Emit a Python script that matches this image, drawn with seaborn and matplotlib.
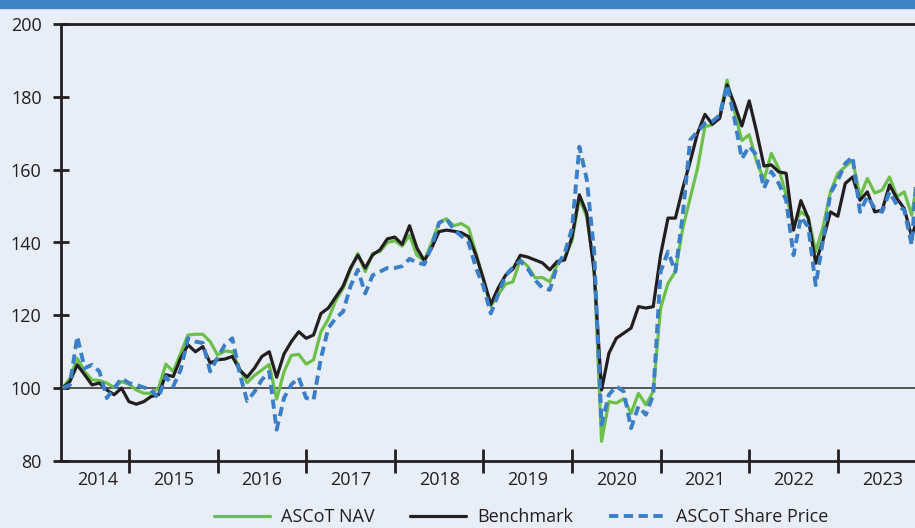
# ASCoT NAV vs benchmark vs share price, rebased to 100

import numpy as np
import pandas as pd
import seaborn as sns
import matplotlib.pyplot as plt
from matplotlib.patches import Rectangle

# monthly values, first point = April 2014
years = ["2014", "2015", "2016", "2017", "2018", "2019", "2020", "2021", "2022", "2023"]

nav = [
    100, 102.7, 108.2, 104.6, 102.3, 102.1, 101.4, 100.2, 101.8, 101.1,
    99.5, 98.6, 98.6, 100.0, 106.6, 104.6, 109.6, 114.6, 114.8, 114.8,
    112.8, 109.1, 110.2, 110.0, 105.3, 101.5, 103.5, 105.0, 106.5, 97.0,
    104.5, 109.0, 109.3, 106.6, 107.8, 115.5, 119.0, 124.0, 127.4, 132.5,
    137.0, 132.0, 137.0, 137.5, 140.0, 140.5, 139.0, 142.0, 136.5, 135.0,
    140.0, 145.5, 146.5, 144.6, 145.2, 144.0, 137.0, 129.9, 122.5, 125.7,
    128.6, 129.2, 135.3, 133.5, 130.3, 130.4, 129.2, 134.0, 136.0, 140.5,
    152.2, 147.0, 133.0, 85.4, 96.3, 95.9, 97.1, 93.1, 98.6, 95.4,
    99.1, 122.0, 128.8, 132.0, 143.9, 152.2, 160.4, 171.8, 172.3, 174.6,
    184.6, 176.0, 168.0, 169.6, 162.2, 157.2, 164.5, 160.3, 153.0, 144.8,
    148.4, 147.0, 137.5, 144.3, 153.9, 159.0, 160.8, 162.6, 152.6, 157.6,
    153.6, 154.4, 158.0, 152.6, 153.9, 147.5, 160.0,
]

benchmark = [
    100, 101.8, 106.4, 103.7, 100.9, 101.4, 99.5, 98.2, 100.0, 96.3,
    95.6, 96.3, 97.7, 98.2, 103.7, 103.2, 108.2, 111.9, 110.0, 111.4,
    106.9, 107.8, 108.0, 108.7, 105.0, 103.0, 105.5, 108.7, 110.0, 103.0,
    109.4, 112.8, 115.5, 113.7, 114.6, 120.5, 122.0, 125.0, 128.0, 133.0,
    136.5, 133.0, 136.6, 138.0, 141.0, 141.5, 139.5, 144.6, 138.5, 135.0,
    138.5, 143.0, 143.4, 143.1, 142.7, 141.6, 136.5, 130.0, 123.0, 127.5,
    131.0, 132.7, 136.5, 136.0, 135.2, 134.4, 132.5, 134.8, 135.2, 141.5,
    153.1, 148.0, 132.0, 99.5, 109.6, 113.7, 115.1, 116.5, 122.4, 122.0,
    122.4, 136.6, 146.7, 146.7, 154.9, 162.2, 170.0, 175.2, 172.5, 174.1,
    183.3, 178.0, 172.0, 178.9, 170.4, 161.0, 161.3, 159.4, 159.0, 143.4,
    151.5, 146.6, 134.3, 140.7, 148.4, 147.2, 156.2, 158.0, 151.6, 153.9,
    148.4, 148.9, 155.8, 152.1, 149.3, 141.6, 148.0,
]

share_price = [
    100, 100.9, 114.2, 105.5, 106.4, 104.6, 97.3, 100.0, 102.7, 101.4,
    100.9, 100.2, 99.5, 97.3, 103.2, 100.5, 105.0, 113.7, 112.8, 112.4,
    104.6, 108.4, 111.9, 113.7, 104.0, 96.5, 99.0, 102.3, 104.5, 88.6,
    97.3, 101.0, 102.9, 97.3, 96.8, 108.2, 116.5, 119.2, 121.0, 128.0,
    132.5, 126.0, 131.0, 132.0, 133.0, 133.0, 133.5, 135.5, 134.5, 134.0,
    139.0, 145.4, 146.5, 143.5, 141.8, 140.0, 133.0, 128.0, 120.5, 125.7,
    131.0, 133.2, 134.9, 132.8, 129.7, 127.5, 127.0, 133.7, 137.0, 143.8,
    166.3, 157.3, 137.5, 90.0, 98.2, 100.5, 99.1, 89.0, 95.0, 92.7,
    98.2, 132.0, 137.5, 132.0, 147.6, 168.2, 170.4, 172.7, 173.2, 175.0,
    183.3, 174.0, 163.0, 166.4, 164.0, 154.9, 159.5, 156.2, 151.6, 136.5,
    147.0, 144.3, 128.3, 140.7, 153.5, 157.1, 161.7, 163.5, 148.4, 152.6,
    149.4, 148.4, 153.9, 150.3, 148.9, 139.3, 168.0,
]

df = pd.DataFrame({
    "month": np.arange(len(nav)),
    "nav": nav,
    "benchmark": benchmark,
    "share": share_price,
})

bg = "#e8eef8"
ink = "#231f20"

sns.set_style("white")
plt.rcParams["font.family"] = ["Open Sans", "DejaVu Sans"]

fig = plt.figure(figsize=(9.15, 5.28), dpi=100)
fig.patch.set_facecolor(bg)
# blue strip along the top edge
fig.patches.append(Rectangle((0, 1 - 8 / 528), 1, 8 / 528, transform=fig.transFigure,
                             color="#3d84c6", zorder=0))

ax = fig.add_axes([61 / 915, 1 - 461 / 528, 1 - 61 / 915, (461 - 24) / 528])
ax.set_facecolor(bg)

ax.axhline(100, color="#3a3a3a", lw=1.2, zorder=1)
sns.lineplot(data=df, x="month", y="nav", ax=ax, color="#6cc04a", lw=2.3,
             label="ASCoT NAV", zorder=2)
sns.lineplot(data=df, x="month", y="benchmark", ax=ax, color=ink, lw=2.3,
             label="Benchmark", zorder=3)
sns.lineplot(data=df, x="month", y="share", ax=ax, color="#3a7fc8", lw=2.8,
             linestyle=(0, (2.4, 1.4)), label="ASCoT Share Price", zorder=4)

ax.set_xlim(-0.2, 115.45)
ax.set_ylim(80, 200)
ax.set_xlabel("")
ax.set_ylabel("")

# year boundaries as ticks, year names in between
bounds = [9 + 12 * k for k in range(9)]
ax.set_xticks(bounds)
ax.set_xticklabels([])
ax.set_xticks([4.8] + [15 + 12 * k for k in range(9)], minor=True)
ax.set_xticklabels(years, minor=True)
ax.tick_params(axis="x", which="major", bottom=True, direction="inout", length=17,
               width=2, color=ink)
ax.tick_params(axis="x", which="minor", bottom=True, length=0, pad=7,
               labelsize=13, labelcolor=ink)

ax.set_yticks(range(80, 201, 20))
ax.tick_params(axis="y", left=True, direction="inout", length=12, width=2, color=ink,
               pad=8, labelsize=13, labelcolor=ink)

for side in ["left", "bottom", "top"]:
    ax.spines[side].set_color(ink)
    ax.spines[side].set_linewidth(2)
ax.spines["right"].set_visible(False)

ax.legend(loc="center", bbox_to_anchor=(521 / 915, 1 - 517 / 528),
          bbox_transform=fig.transFigure, ncol=3, frameon=False,
          handlelength=3.1, handletextpad=0.6, columnspacing=2.0,
          fontsize=13, labelcolor=ink)

fig.savefig("out.png", dpi=100, facecolor=bg)
